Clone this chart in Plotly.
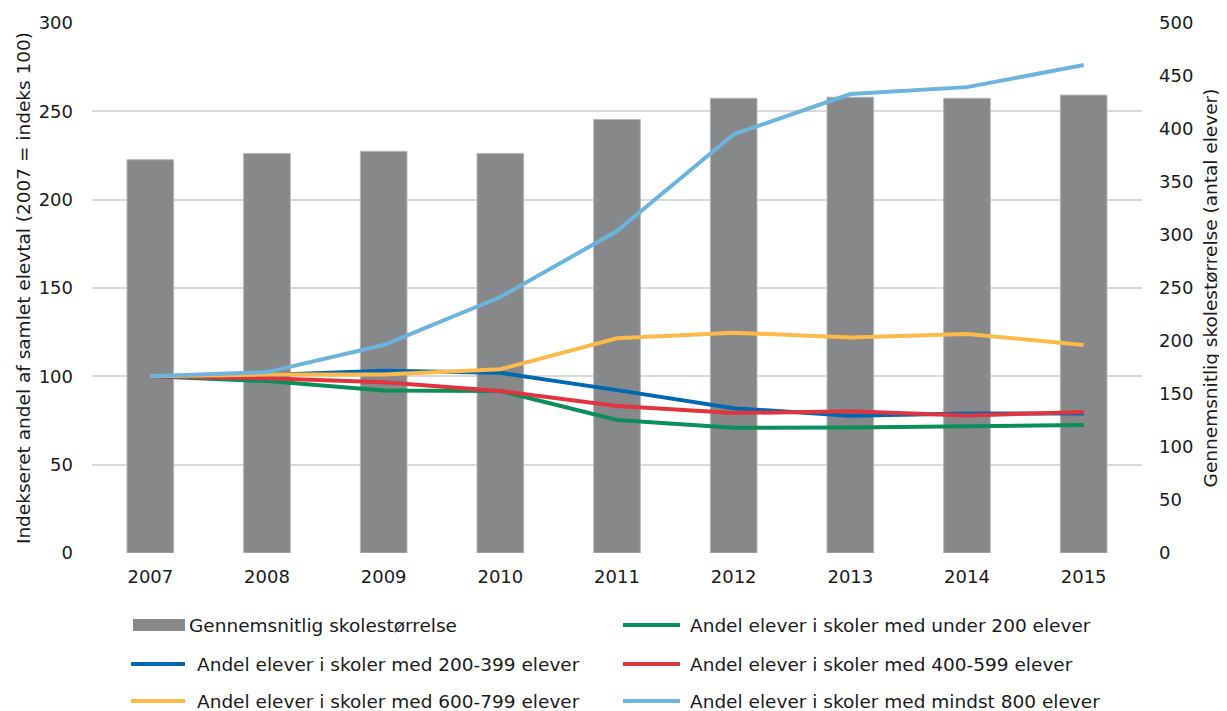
import plotly.graph_objects as go

years = ["2007", "2008", "2009", "2010", "2011", "2012", "2013", "2014", "2015"]

avg_school_size = [371, 377, 379, 377, 409, 429, 430, 429, 432]
under_200 = [100, 97.3, 92.0, 91.7, 75.3, 70.9, 71.1, 71.5, 72.4]
s200_399 = [100, 100.7, 103.2, 102.0, 92.2, 81.9, 77.7, 79.0, 79.0]
s400_599 = [100, 98.9, 96.6, 91.7, 83.2, 79.2, 80.2, 77.9, 79.8]
s600_799 = [100, 101.0, 101.0, 104.0, 121.5, 124.7, 122.0, 124.0, 117.7]
min_800 = [100, 102.4, 117.7, 144.9, 182.2, 237.0, 259.8, 263.7, 276.2]

name_bar = "Gennemsnitlig skolestørrelse"
names = [
    "Andel elever i skoler med under 200 elever",
    "Andel elever i skoler med 200-399 elever",
    "Andel elever i skoler med 400-599 elever",
    "Andel elever i skoler med 600-799 elever",
    "Andel elever i skoler med mindst 800 elever",
]
series = [under_200, s200_399, s400_599, s600_799, min_800]
colors = ["#0A8F5B", "#0068B0", "#E0343F", "#FDB94A", "#6CB4DD"]
bar_color = "#86888A"

# page has an 8px body margin; work in screen pixels
OFF = 8
W, H = 1227 - OFF, 711 - OFF
PL, PR, PT, PB = 92, 1142, 23, 553  # plot area in screen px
pw, ph = PR - PL, PB - PT
L, T = PL - OFF, PT - OFF
R, B = W - L - pw, H - T - ph

def px(x):
    return (x - PL) / pw

def py(y):
    return (PB - y) / ph

FONT = "DejaVu Sans"
FS = 18.5
TFS = 18

fig = go.Figure()
fig.add_trace(go.Bar(
    x=years, y=avg_school_size, name=name_bar, yaxis="y",
    marker=dict(color=bar_color, line=dict(color="#B5B6B8", width=1)),
    width=0.4, showlegend=False,
))
for nm, s, c in zip(names, series, colors):
    fig.add_trace(go.Scatter(
        x=years, y=s, name=nm, mode="lines", yaxis="y2",
        line=dict(color=c, width=4), showlegend=False,
    ))

fig.update_layout(
    width=W, height=H,
    margin=dict(l=L, r=R, t=T, b=B, autoexpand=False),
    paper_bgcolor="white", plot_bgcolor="white",
    font=dict(family=FONT, size=FS, color="#1a1a1a"),
    xaxis=dict(showgrid=False, showline=False, ticks="", tickfont=dict(size=TFS),
               ticklabelstandoff=11, automargin=False),
    yaxis=dict(
        range=[0, 500], dtick=50, side="right", showgrid=False,
        zeroline=False, showline=False, ticks="", ticklabelstandoff=16,
        tickfont=dict(size=TFS), automargin=False,
        title=dict(text="Gennemsnitlig skolestørrelse (antal elever)",
                   font=dict(size=FS), standoff=11),
    ),
    yaxis2=dict(
        range=[0, 300], dtick=50, overlaying="y", side="left",
        showgrid=True, gridcolor="#D9D9D9", gridwidth=1.5,
        zeroline=False, showline=False, ticks="", ticklabelstandoff=18,
        tickfont=dict(size=TFS), automargin=False,
        title=dict(text="Indekseret andel af samlet elevtal (2007 = indeks 100)",
                   font=dict(size=FS), standoff=3),
    ),
)

# Manual legend (two columns, three rows), positions in screen px
shapes = []
annotations = []
rows = [625, 664, 701]
entries = [
    ("bar", name_bar, bar_color, 133, 185, 188, rows[0]),
    ("line", names[0], colors[0], 623, 680, 689, rows[0]),
    ("line", names[1], colors[1], 131, 185, 196, rows[1]),
    ("line", names[2], colors[2], 623, 680, 689, rows[1]),
    ("line", names[3], colors[3], 131, 185, 196, rows[2]),
    ("line", names[4], colors[4], 623, 680, 689, rows[2]),
]
for kind, txt, col, x0, x1, xt, yy in entries:
    if kind == "bar":
        shapes.append(dict(type="rect", xref="paper", yref="paper",
                           x0=px(x0), x1=px(x1), y0=py(yy + 6), y1=py(yy - 6),
                           fillcolor=col, line=dict(width=0)))
    else:
        shapes.append(dict(type="line", xref="paper", yref="paper",
                           x0=px(x0), x1=px(x1), y0=py(yy), y1=py(yy),
                           line=dict(color=col, width=4)))
    annotations.append(dict(xref="paper", yref="paper", x=px(xt), y=py(yy),
                            xanchor="left", yanchor="middle", showarrow=False,
                            borderpad=0,
                            text=txt, font=dict(size=FS, family=FONT)))

fig.update_layout(shapes=shapes, annotations=annotations)
fig.write_html("out.html")
